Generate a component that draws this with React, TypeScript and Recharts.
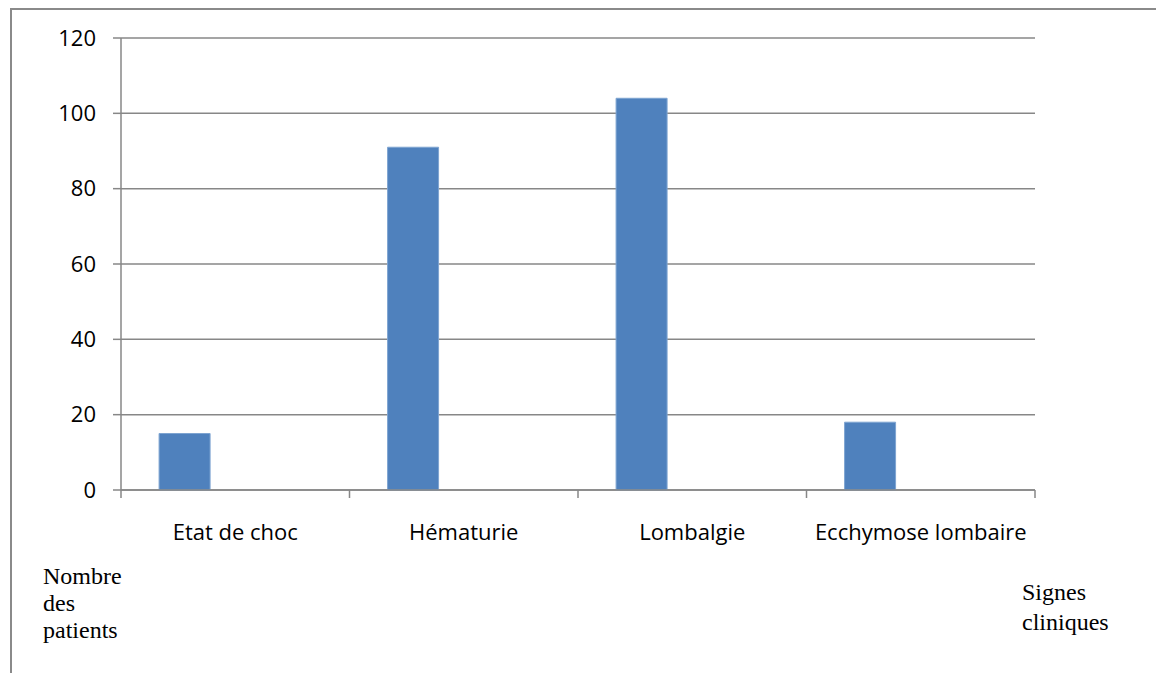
import React from "react";
import { BarChart, Bar, XAxis, YAxis, CartesianGrid } from "recharts";

// Signes cliniques observés et nombre de patients concernés
const categories = ["Etat de choc", "Hématurie", "Lombalgie", "Ecchymose lombaire"];
const serie1 = [15, 91, 104, 18];
// Séries 2 et 3 du classeur d'origine : vides
const serie2: (number | null)[] = [null, null, null, null];
const serie3: (number | null)[] = [null, null, null, null];
const yTicks = [0, 20, 40, 60, 80, 100, 120];

const data = categories.map((name, i) => ({
  name,
  s1: serie1[i],
  s2: serie2[i],
  s3: serie3[i],
}));

const W = 1156;
const H = 675;
const Y_AXIS_W = 60;
const MARGIN = { top: 38, right: 121, bottom: 125, left: 61 };
const PLOT_W = W - MARGIN.left - MARGIN.right - Y_AXIS_W;
const BAND = PLOT_W / categories.length;

const GRID = "#878787";
const SANS = "'Open Sans', 'Noto Sans', sans-serif";
const SERIF = "'Liberation Serif', 'DejaVu Serif', serif";

const CategoryTick = (props: any) => {
  const { x, y, payload, index } = props;
  const left = x - BAND / 2;
  const right = x + BAND / 2;
  return (
    <g>
      <line x1={left} x2={left} y1={y} y2={y + 8} stroke={GRID} strokeWidth={1.5} />
      {index === categories.length - 1 && (
        <line x1={right} x2={right} y1={y} y2={y + 8} stroke={GRID} strokeWidth={1.5} />
      )}
      <text x={x} y={y + 50} textAnchor="middle" fontFamily={SANS} fontSize={22} fill="#000">
        {payload.value}
      </text>
    </g>
  );
};

export default function App() {
  return (
    <div style={{ position: "absolute", left: 0, top: 0, width: W, height: H, background: "#fff" }}>
      <BarChart
        width={W}
        height={H}
        data={data}
        margin={MARGIN}
        barCategoryGap="16.67%"
        barGap={0}
      >
        <CartesianGrid vertical={false} stroke={GRID} strokeWidth={1.5} />
        <XAxis
          dataKey="name"
          axisLine={{ stroke: GRID, strokeWidth: 1.5 }}
          tickLine={false}
          tickSize={0}
          tickMargin={0}
          height={60}
          interval={0}
          tick={<CategoryTick />}
        />
        <YAxis
          domain={[0, 120]}
          ticks={yTicks}
          width={Y_AXIS_W}
          axisLine={{ stroke: GRID, strokeWidth: 1.5 }}
          tickLine={{ stroke: GRID, strokeWidth: 1.5 }}
          tickSize={8}
          tickMargin={17}
          tick={{ fontFamily: SANS, fontSize: 22, fill: "#000" }}
        />
        <Bar dataKey="s1" fill="#4F81BD" stroke="#7EA4D1" strokeWidth={1} isAnimationActive={false} />
        <Bar dataKey="s2" fill="#C0504D" isAnimationActive={false} />
        <Bar dataKey="s3" fill="#9BBB59" isAnimationActive={false} />
      </BarChart>
      <svg
        width={W}
        height={H}
        style={{ position: "absolute", left: 0, top: 0, pointerEvents: "none" }}
      >
        <line x1={10} x2={W} y1={9} y2={9} stroke="#8a8a8a" strokeWidth={2} />
        <line x1={11} x2={11} y1={8} y2={673} stroke="#8a8a8a" strokeWidth={2} />
        <text fontFamily={SERIF} fontSize={24} fill="#000">
          <tspan x={43} y={584}>Nombre</tspan>
          <tspan x={43} y={611}>des</tspan>
          <tspan x={43} y={638}>patients</tspan>
        </text>
        <text fontFamily={SERIF} fontSize={24} fill="#000">
          <tspan x={1022} y={600}>Signes</tspan>
          <tspan x={1022} y={630}>cliniques</tspan>
        </text>
      </svg>
    </div>
  );
}
